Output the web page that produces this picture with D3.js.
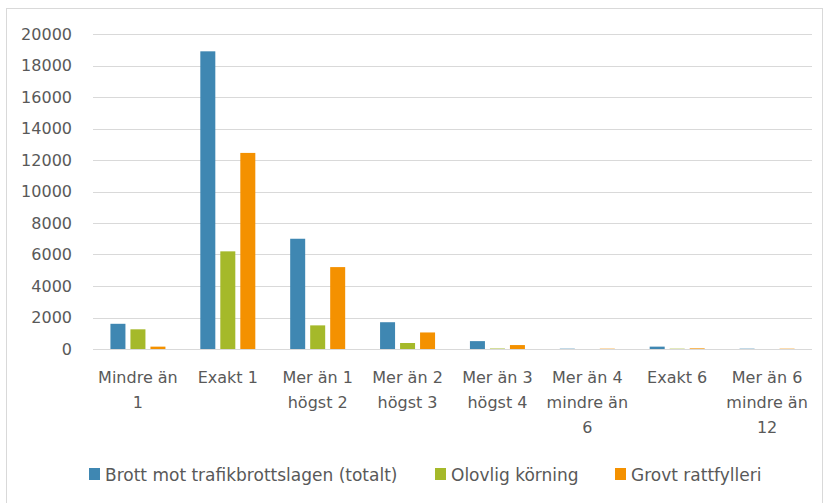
<!DOCTYPE html>
<html>
<head>
<meta charset="utf-8">
<script src="https://cdn.jsdelivr.net/npm/d3@7"></script>
<style>
  html, body { margin: 0; padding: 0; background: #fff; }
  svg text { font-family: "DejaVu Sans", sans-serif; fill: #595959; }
</style>
</head>
<body>
<svg id="chart" width="829" height="503"></svg>
<script>
const categories = [
  ["Mindre än", "1"],
  ["Exakt 1"],
  ["Mer än 1", "högst 2"],
  ["Mer än 2", "högst 3"],
  ["Mer än 3", "högst 4"],
  ["Mer än 4", "mindre än", "6"],
  ["Exakt 6"],
  ["Mer än 6", "mindre än", "12"]
];
const seriesNames = ["Brott mot trafikbrottslagen (totalt)", "Olovlig körning", "Grovt rattfylleri"];
const brott = [1600, 18900, 7000, 1700, 500, 20, 150, 20];
const olovlig = [1250, 6200, 1500, 380, 30, 0, 20, 0];
const grovt = [150, 12450, 5200, 1050, 250, 20, 40, 20];
const yTicks = [0, 2000, 4000, 6000, 8000, 10000, 12000, 14000, 16000, 18000, 20000];
const colors = ["#3f87b2", "#a5b92a", "#f49100"];

const series = [brott, olovlig, grovt];
const svg = d3.select("#chart");

// outer frame
svg.append("rect").attr("x", 6.5).attr("y", 8.5).attr("width", 816).attr("height", 500)
  .attr("fill", "none").attr("stroke", "#d9d9d9").attr("stroke-width", 1);

const plot = { left: 93, right: 812, top: 34, bottom: 349 };

const x = d3.scaleBand().domain(d3.range(categories.length)).range([plot.left, plot.right]).paddingInner(0).paddingOuter(0);
const y = d3.scaleLinear().domain([0, 20000]).range([plot.bottom, plot.top]);

// gridlines
svg.append("g").selectAll("line").data(yTicks).join("line")
  .attr("x1", plot.left).attr("x2", plot.right)
  .attr("y1", d => Math.round(y(d)) + 0.5).attr("y2", d => Math.round(y(d)) + 0.5)
  .attr("stroke", "#d9d9d9").attr("stroke-width", 1);

// y axis labels
const yAxis = d3.axisLeft(y).tickValues(yTicks).tickSize(0).tickPadding(0).tickFormat(d3.format("d"));
const gy = svg.append("g").attr("transform", `translate(${72},0)`).call(yAxis);
gy.select(".domain").remove();
gy.selectAll("text").style("font-family", "DejaVu Sans").style("font-size", "16px").attr("fill", "#595959");

// bars
const barW = 15, gap = 5;
const inner = d3.scaleBand().domain(d3.range(series.length)).range([0, 3 * barW + 2 * gap]).paddingInner(gap / (barW + gap));
const groups = svg.append("g").selectAll("g").data(categories).join("g")
  .attr("transform", (d, i) => `translate(${x(i) + x.bandwidth() / 2 - (3 * barW + 2 * gap) / 2},0)`);
groups.selectAll("rect").data((d, i) => series.map((s, k) => ({ k, v: s[i] }))).join("rect")
  .attr("x", d => inner(d.k))
  .attr("width", inner.bandwidth())
  .attr("y", d => y(d.v))
  .attr("height", d => y(0) - y(d.v))
  .attr("fill", d => colors[d.k]);

// baseline
svg.append("line").attr("x1", plot.left).attr("x2", plot.right)
  .attr("y1", plot.bottom + 0.5).attr("y2", plot.bottom + 0.5)
  .attr("stroke", "#d9d9d9").attr("stroke-width", 1);

// category labels
const xl = svg.append("g");
categories.forEach((lines, i) => {
  const t = xl.append("text").attr("text-anchor", "middle").style("font-size", "16px")
    .attr("x", x(i) + x.bandwidth() / 2).attr("y", 383);
  lines.forEach((ln, j) => t.append("tspan").attr("x", x(i) + x.bandwidth() / 2).attr("dy", j === 0 ? 0 : 25).text(ln));
});

// legend
const legendX = [89, 435, 615];
const lg = svg.append("g").selectAll("g").data(seriesNames).join("g")
  .attr("transform", (d, i) => `translate(${legendX[i]},468)`);
lg.append("rect").attr("width", 11).attr("height", 12).attr("fill", (d, i) => colors[i]);
lg.append("text").attr("x", 16).attr("y", 13).style("font-size", "17px").text(d => d);
</script>
</body>
</html>
